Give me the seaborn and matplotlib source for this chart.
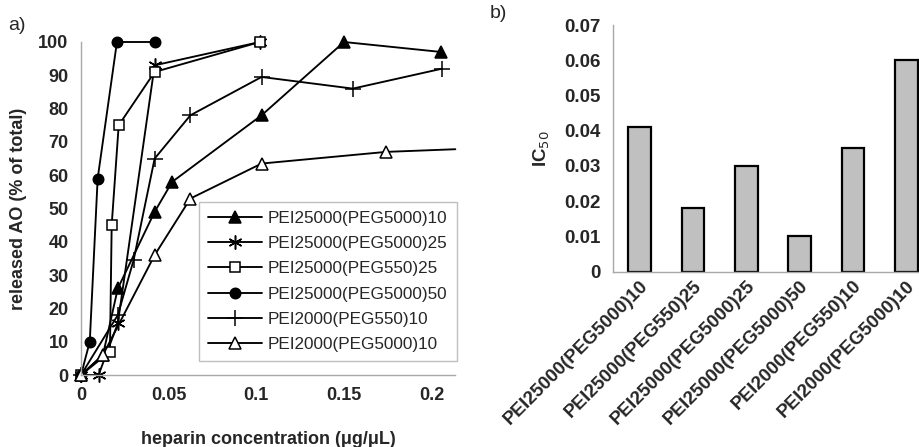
import numpy as np
import pandas as pd
import matplotlib
matplotlib.use("Agg")
import matplotlib.pyplot as plt
import seaborn as sns

# ---------------- data: panel a ----------------
labels_a = ["PEI25000(PEG5000)10", "PEI25000(PEG5000)25", "PEI25000(PEG550)25",
            "PEI25000(PEG5000)50", "PEI2000(PEG550)10", "PEI2000(PEG5000)10"]
x_s1 = [0, 0.0125, 0.021, 0.042, 0.052, 0.103, 0.150, 0.2055]
y_s1 = [0, 6, 26, 49, 58, 78, 100, 97]
x_s2 = [0, 0.010, 0.021, 0.042, 0.102]
y_s2 = [0, 0, 15.5, 93, 100]
x_s3 = [0, 0.0165, 0.0175, 0.0215, 0.042, 0.102]
y_s3 = [0, 7, 45, 75, 91, 100]
x_s4 = [0, 0.005, 0.0095, 0.0205, 0.042]
y_s4 = [0, 10, 59, 100, 100]
x_s5 = [0, 0.021, 0.030, 0.042, 0.0624, 0.103, 0.155, 0.206]
y_s5 = [0, 18, 34.5, 65, 78, 89.5, 86, 92]
x_s6 = [0, 0.0125, 0.042, 0.0624, 0.103, 0.174, 0.2135]
y_s6 = [0, 6, 36, 53, 63.5, 67, 67.8]

# ---------------- data: panel b ----------------
categories_b = ["PEI25000(PEG5000)10", "PEI25000(PEG550)25", "PEI25000(PEG5000)25",
                "PEI25000(PEG5000)50", "PEI2000(PEG550)10", "PEI2000(PEG5000)10"]
ic50_b = [0.041, 0.018, 0.030, 0.010, 0.035, 0.060]

sns.set_style("white")
plt.rcParams["font.family"] = ["Liberation Sans", "DejaVu Sans"]

fig = plt.figure(figsize=(9.2, 4.47), dpi=100)

# ---------- panel a ----------
W, H = 920, 447
axa = fig.add_axes([81 / W, 1 - 375 / H, (455 - 81) / W, (375 - 42) / H])

series = [(x_s1, y_s1, dict(marker="^", mfc="black", ms=8.5)),
          (x_s2, y_s2, dict(marker=(6, 2, 0), mfc="black", ms=10)),
          (x_s3, y_s3, dict(marker="s", mfc="white", ms=7)),
          (x_s4, y_s4, dict(marker="o", mfc="black", ms=7.5)),
          (x_s5, y_s5, dict(marker="+", mfc="black", ms=11)),
          (x_s6, y_s6, dict(marker="^", mfc="white", ms=8.5))]

for i, (xs, ys, st) in enumerate(series):
    df = pd.DataFrame({"x": xs, "y": ys})
    me = list(range(len(xs) - 1)) if i == 5 else None
    sns.lineplot(data=df, x="x", y="y", ax=axa, color="black", lw=1.35,
                 marker=st["marker"], markersize=st["ms"],
                 markerfacecolor=st["mfc"], markeredgecolor="black",
                 markeredgewidth=1.1, estimator=None, sort=False,
                 label=labels_a[i], clip_on=False, markevery=me)

axa.set_xlim(0, 0.2133)
axa.set_ylim(0, 100)
axa.set_xticks([0, 0.05, 0.1, 0.15, 0.2])
axa.set_xticklabels(["0", "0.05", "0.1", "0.15", "0.2"])
axa.set_yticks(np.arange(0, 101, 10))
for s in ["top", "right"]:
    axa.spines[s].set_visible(False)
for s in ["left", "bottom"]:
    axa.spines[s].set_color("#a8a8a8")
    axa.spines[s].set_linewidth(1.0)
axa.tick_params(axis="both", direction="out", length=3, color="#a8a8a8",
                labelsize=13, pad=6)
for t in axa.get_xticklabels() + axa.get_yticklabels():
    t.set_fontweight("bold")
axa.set_xlabel("heparin concentration (\u03bcg/\u03bcL)", fontsize=13,
               fontweight="bold", labelpad=19)
axa.set_ylabel("released AO (% of total)", fontsize=13, fontweight="bold",
               labelpad=8)

leg = axa.legend(loc="lower left", bbox_to_anchor=(0.3155, 0.043, 0.69, 0.477),
                 mode="expand", fontsize=12.3, frameon=True, fancybox=False,
                 handlelength=3.2, labelspacing=0.6, borderpad=0.5,
                 handletextpad=0.3, borderaxespad=0)
leg.get_frame().set_edgecolor("#b0b0b0")
leg.get_frame().set_linewidth(1.0)

fig.text(8 / W, 1 - 26 / H, "a)", fontsize=14, va="center", ha="left")

# ---------- panel b ----------
axb = fig.add_axes([613 / W, 1 - 271.7 / H, (933 - 613) / W, (271.7 - 25) / H])
dfb = pd.DataFrame({"cat": categories_b, "val": ic50_b})
sns.barplot(data=dfb, x="cat", y="val", ax=axb, color="#c0c0c0", saturation=1,
            edgecolor="black", linewidth=1.6, width=0.42)
axb.set_xlim(-0.5, 5.5)
axb.set_ylim(0, 0.07)
axb.set_yticks(np.arange(0, 0.0701, 0.01))
axb.set_yticklabels(["0", "0.01", "0.02", "0.03", "0.04", "0.05", "0.06", "0.07"])
axb.set_xticks(np.arange(-0.5, 6, 1), minor=True)
axb.tick_params(axis="x", which="major", length=0, labelsize=13.5, pad=4)
axb.tick_params(axis="x", which="minor", direction="out", length=4, color="#a8a8a8")
axb.tick_params(axis="y", direction="out", length=3, color="#a8a8a8", labelsize=13.5, pad=6)
for t in axb.get_xticklabels():
    t.set_rotation(45)
    t.set_ha("right")
    t.set_rotation_mode("anchor")
    t.set_fontweight("bold")
for t in axb.get_yticklabels():
    t.set_fontweight("bold")
for s in ["top", "right"]:
    axb.spines[s].set_visible(False)
for s in ["left", "bottom"]:
    axb.spines[s].set_color("#a8a8a8")
    axb.spines[s].set_linewidth(1.0)
axb.set_xlabel("")
axb.set_ylabel("IC$_{50}$", fontsize=13.5, fontweight="bold", labelpad=9)

fig.text(490 / W, 1 - 13 / H, "b)", fontsize=14, va="center", ha="left")

fig.savefig("out.png", dpi=100)
